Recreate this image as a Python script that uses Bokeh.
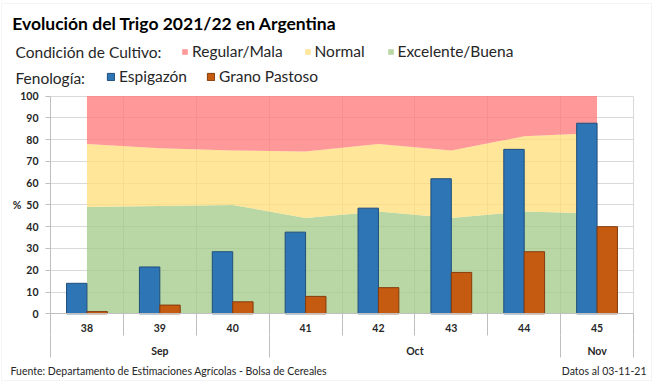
from bokeh.plotting import figure
from bokeh.models import (Range1d, LinearAxis, FixedTicker, Label, Legend, LegendItem,
                          Grid, ColumnDataSource, BoxAnnotation)
from bokeh.transform import dodge
from bokeh.embed import file_html
from bokeh.resources import INLINE

# ---------------- data ----------------
weeks = ["38", "39", "40", "41", "42", "43", "44", "45"]
months = ["Sep", "Oct", "Nov"]
weeks_per_month = [3, 4, 1]

espigazon = [14, 21.5, 28.5, 37.5, 48.5, 62, 75.5, 87.5]
grano_pastoso = [1, 4, 5.5, 8, 12, 19, 28.5, 40]

excelente_buena = [49, 49.5, 50, 44, 47, 44, 47, 46]
normal = [29, 26.5, 25, 30.5, 31, 31, 34.5, 37]
regular_mala = [22, 24, 25, 25.5, 22, 25, 18.5, 17]

y_ticks = [0, 10, 20, 30, 40, 50, 60, 70, 80, 90, 100]

# ---------------- style / layout ----------------
FONT = "Lato"
TXT = "#262626"
AX = "#BFBFBF"
GRID = "#D9D9D9"
C_RED = "#FF7777"
C_YEL = "#FFDE77"
C_GRN = "#A2CA87"
C_BLUE = "#2E75B6"
C_BLUE_L = "#1F4E79"
C_ORG = "#C55A11"
C_ORG_L = "#843C0C"

W, H = 656, 383
PL, PR, PT, PB = 50.0, 633.0, 95.5, 313.3   # plot area in canvas pixels
AX2_GAP = 22.0                               # gap between week and month axis (px)

n = len(weeks)
centers = [i + 0.5 for i in range(n)]
bounds = list(range(n + 1))
month_bounds = [0]
for k in weeks_per_month:
    month_bounds.append(month_bounds[-1] + k)
month_centers = [(month_bounds[i] + month_bounds[i + 1]) / 2 for i in range(len(months))]

sx = (PR - PL) / n
sy = (PB - PT) / 100.0
x_range = Range1d(-PL / sx, n + (W - PR) / sx)
y_range = Range1d(-(H - PB) / sy, 100 + PT / sy)

src = ColumnDataSource(dict(
    x=centers, exc=excelente_buena, nor=normal, reg=regular_mala,
    esp=espigazon, gra=grano_pastoso,
))

p = figure(width=W, height=H, output_backend="svg", toolbar_location=None,
           x_range=x_range, y_range=y_range, x_axis_type=None,
           min_border=0, min_border_left=0, min_border_right=0,
           min_border_top=0, min_border_bottom=0)
p.outline_line_color = None
p.background_fill_color = "white"
p.border_fill_color = "white"

# chart border
p.add_layout(BoxAnnotation(left=1, right=651, bottom=H - 380, top=H - 3,
                           left_units="screen", right_units="screen",
                           top_units="screen", bottom_units="screen",
                           fill_alpha=0, line_color="#D9D9D9", line_width=1,
                           level="underlay"))

# grids
p.ygrid.grid_line_color = GRID
p.ygrid.ticker = FixedTicker(ticks=y_ticks)
p.ygrid.cross_bounds = (0, n)
p.add_layout(Grid(dimension=0, ticker=FixedTicker(ticks=bounds), grid_line_color=GRID,
                  cross_bounds=(0, 100)))

# stacked condition areas
areas = p.varea_stack(["exc", "nor", "reg"], x="x", source=src,
                      fill_color=[C_GRN, C_YEL, C_RED], fill_alpha=0.75)

# bars
r_esp = p.vbar(x=dodge("x", -0.14, range=p.x_range), top="esp", width=0.28, source=src,
               fill_color=C_BLUE, line_color=C_BLUE_L, line_width=1)
r_gra = p.vbar(x=dodge("x", 0.14, range=p.x_range), top="gra", width=0.28, source=src,
               fill_color=C_ORG, line_color=C_ORG_L, line_width=1)

# y axis
ya = p.yaxis[0]
ya.fixed_location = 0
ya.bounds = (0, 100)
ya.ticker = FixedTicker(ticks=y_ticks)
ya.axis_line_color = AX
ya.major_tick_line_color = AX
ya.major_tick_out = 5
ya.major_tick_in = 0
ya.minor_tick_line_color = None
ya.major_label_standoff = 7
ya.major_label_text_font = FONT
ya.major_label_text_font_style = "bold"
ya.major_label_text_font_size = "10.5px"
ya.major_label_text_color = TXT
ya.axis_label = "%"
ya.axis_label_orientation = "horizontal"
ya.axis_label_standoff = -4
ya.axis_label_text_font = FONT
ya.axis_label_text_font_style = "bold"
ya.axis_label_text_font_size = "10.5px"
ya.axis_label_text_color = TXT

# x axes: weeks and months
xa1 = LinearAxis(ticker=FixedTicker(ticks=centers, minor_ticks=bounds),
                 major_label_overrides={c: w for c, w in zip(centers, weeks)},
                 fixed_location=0, bounds=(0, n),
                 axis_line_color=AX, major_tick_out=0, major_tick_in=0,
                 minor_tick_out=0, minor_tick_in=-22, minor_tick_line_color=AX,
                 major_label_standoff=10, major_label_text_font=FONT,
                 major_label_text_font_style="bold", major_label_text_font_size="10.5px",
                 major_label_text_color=TXT)
xa2 = LinearAxis(ticker=FixedTicker(ticks=month_centers, minor_ticks=month_bounds),
                 major_label_overrides={c: m for c, m in zip(month_centers, months)},
                 fixed_location=-AX2_GAP / sy, bounds=(0, n),
                 axis_line_color=None, major_tick_out=0, major_tick_in=0,
                 minor_tick_out=0, minor_tick_in=-22, minor_tick_line_color=AX,
                 major_label_standoff=9, major_label_text_font=FONT,
                 major_label_text_font_style="bold", major_label_text_font_size="10.5px",
                 major_label_text_color=TXT)
p.add_layout(xa1, "below")
p.add_layout(xa2, "below")


def lab(text, x, y, size, bold=False, align="left"):
    p.add_layout(Label(x=x, y=H - y, x_units="screen", y_units="screen", text=text,
                       text_font=FONT, text_font_size=size,
                       text_font_style="bold" if bold else "normal",
                       text_color="black" if bold else TXT, text_align=align,
                       text_baseline="alphabetic"))


lab("Evolución del Trigo 2021/22 en Argentina", 11.7, 22.5, "17.5px", bold=True)
lab("Condición de Cultivo:", 15, 51, "15.5px")
lab("Fenología:", 15, 77.5, "15.5px")
lab("Fuente: Departamento  de Estimaciones Agrícolas - Bolsa de Cereales", 10, 370.5, "10.5px")
lab("Datos al 03-11-21", 646, 370.5, "10.5px", align="right")


def leg(label, rend, x, ycenter, g):
    lg = Legend(items=[LegendItem(label=label, renderers=[rend])],
                location=(x, H - (ycenter + 9.3)), orientation="horizontal",
                padding=0, margin=0, spacing=0, border_line_color=None,
                background_fill_alpha=0, glyph_width=g, glyph_height=g,
                label_standoff=4, label_text_font=FONT, label_text_font_size="15.5px",
                label_text_color=TXT, label_height=g)
    p.add_layout(lg, "center")


leg("Regular/Mala", areas[2], 181, 50.8, 7)
leg("Normal", areas[1], 303.5, 50.8, 7)
leg("Excelente/Buena", areas[0], 386.5, 50.8, 7)
leg("Espigazón", r_esp, 106, 76, 9)
leg("Grano Pastoso", r_gra, 206, 76, 9)

open("out.html", "w").write(file_html(p, INLINE))
